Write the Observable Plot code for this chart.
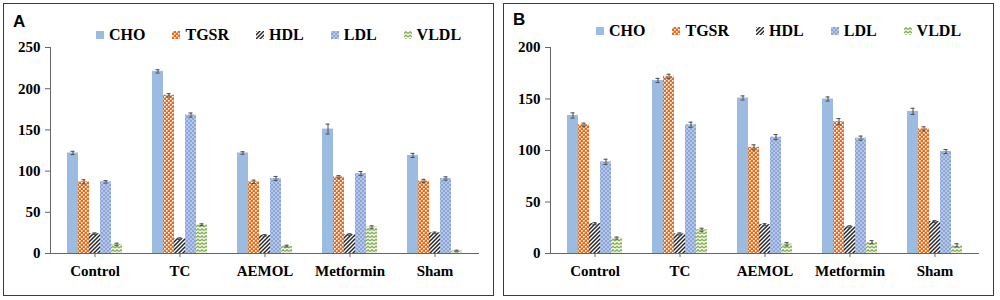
<!DOCTYPE html>
<html>
<head>
<meta charset="utf-8">
<script src="https://cdn.jsdelivr.net/npm/d3@7"></script>
<script src="https://cdn.jsdelivr.net/npm/@observablehq/plot@0.6"></script>
<style>
  html, body { margin: 0; padding: 0; background: #fff; }
  #wrap { position: relative; width: 1000px; height: 300px; overflow: hidden; background: #fff; }
  .panel { position: absolute; top: 3px; width: 491px; height: 293px; box-sizing: border-box; border: 1px solid #3c3c3c; background: #fff; }
  .panel svg.plot { position: absolute; left: 0; top: 0; }
  .tag { position: absolute; left: 9px; font: bold 17px "Liberation Sans", Arial, sans-serif; color: #000; line-height: 1; }
  .legend { position: absolute; display: flex; align-items: center; font: bold 16px "Liberation Serif", "Times New Roman", serif; color: #000; line-height: 1; white-space: nowrap; }
  .legend .item { display: flex; align-items: center; margin-right: 27px; }
  .legend svg { margin-right: 5px; }
</style>
</head>
<body>
<svg width="0" height="0" style="position:absolute">
  <defs>
    <pattern id="pat-CHO" patternUnits="userSpaceOnUse" width="4" height="4">
      <rect width="4" height="4" fill="#9BBBE0"/>
    </pattern>
    <pattern id="pat-TGSR" patternUnits="userSpaceOnUse" width="4" height="4">
      <rect width="4" height="4" fill="#E46C1A"/>
      <rect x="0" y="0" width="1.6" height="1.6" fill="#fff"/>
      <rect x="2" y="2" width="1.6" height="1.6" fill="#fff"/>
    </pattern>
    <pattern id="pat-HDL" patternUnits="userSpaceOnUse" width="4" height="4">
      <rect width="4" height="4" fill="#fff"/>
      <path d="M-1,1 l2,-2 M0,4 l4,-4 M3,5 l2,-2" stroke="#262626" stroke-width="1.5"/>
    </pattern>
    <pattern id="pat-LDL" patternUnits="userSpaceOnUse" width="4" height="4">
      <rect width="4" height="4" fill="#8CA6D9"/>
      <circle cx="1" cy="1" r="0.7" fill="#fff"/>
      <circle cx="3" cy="3" r="0.7" fill="#fff"/>
    </pattern>
    <pattern id="pat-VLDL" patternUnits="userSpaceOnUse" width="4" height="3.5">
      <rect width="4" height="3.5" fill="#fff"/>
      <path d="M0,2.6 L2,0.8 L4,2.6" stroke="#76A63C" stroke-width="1.3" fill="none"/>
    </pattern>
  </defs>
</svg>
<div id="wrap"></div>
<script>
const groups = ["Control", "TC", "AEMOL", "Metformin", "Sham"];
const series = ["CHO", "TGSR", "HDL", "LDL", "VLDL"];

// Panel A: one row per series, one value per group
const valuesA = [
  [122, 221, 122, 151, 119],
  [87, 192, 87, 93, 88],
  [24, 18, 22, 23, 25],
  [87, 168, 91, 97, 91],
  [11, 35, 9, 32, 3]
];
const errorsA = [
  [2, 2, 1.5, 6, 2.5],
  [2.5, 2, 2, 1.5, 2],
  [1, 1, 1, 1, 1],
  [1.5, 2.5, 2.5, 2.5, 2],
  [1.5, 1, 1, 1.5, 1]
];
const ticksA = [0, 50, 100, 150, 200, 250];

// Panel B
const valuesB = [
  [134, 168, 151, 150, 138],
  [125, 172, 103, 128, 121],
  [29, 19, 28, 26, 31],
  [89, 125, 113, 112, 99],
  [15, 23, 9, 11, 8]
];
const errorsB = [
  [2.5, 2, 2, 2, 3],
  [1.5, 2, 2.5, 3, 2],
  [1, 1, 1, 1, 1],
  [2.5, 2.5, 2.5, 2, 2],
  [1, 1.5, 1.5, 1.5, 1.5]
];
const ticksB = [0, 50, 100, 150, 200];

const W = 489, H = 291, MT = 43, MB = 42, ML = 46, MR = 14;
const fontStyle = {fontFamily: '"Liberation Serif", "Times New Roman", serif', fontWeight: "bold", color: "#000", background: "transparent", overflow: "visible"};

function bars(values, errors, ticks) {
  const rows = groups.flatMap((g, i) => series.map((s, j) => ({group: g, series: s, value: values[j][i], err: errors[j][i]})));
  return Plot.plot({
    width: W, height: H, marginTop: MT, marginBottom: MB, marginLeft: ML, marginRight: MR,
    style: fontStyle,
    fx: {domain: groups, paddingInner: 0.3, paddingOuter: 0.15, label: null},
    x: {domain: series, padding: 0, axis: null},
    y: {domain: [0, ticks[ticks.length - 1]], axis: null},
    color: {domain: series, range: series.map(s => `url(#pat-${s})`)},
    marks: [
      Plot.barY(rows, {fx: "group", x: "series", y: "value", fill: "series"}),
      Plot.ruleX(rows, {fx: "group", x: "series", y1: d => d.value - d.err, y2: d => d.value + d.err, stroke: "#4d4d4d", strokeWidth: 1}),
      Plot.tickY(rows, {fx: "group", x: "series", y: d => d.value + d.err, stroke: "#4d4d4d", insetLeft: 3.5, insetRight: 3.5}),
      Plot.tickY(rows, {fx: "group", x: "series", y: d => d.value - d.err, stroke: "#4d4d4d", insetLeft: 3.5, insetRight: 3.5}),
      Plot.axisFx({anchor: "bottom", tickSize: 4, tickPadding: 8, fontSize: 15, label: null, stroke: "#666"})
    ]
  });
}

function axes(ticks) {
  return Plot.plot({
    width: W, height: H, marginTop: MT, marginBottom: MB, marginLeft: ML, marginRight: MR,
    style: fontStyle,
    y: {domain: [0, ticks[ticks.length - 1]]},
    marks: [
      Plot.ruleY([0], {stroke: "#666"}),
      Plot.frame({anchor: "left", stroke: "#666"}),
      Plot.axisY({ticks: ticks, tickSize: 5, tickPadding: 5, fontSize: 15, label: null, stroke: "#666", tickFormat: d => String(d)})
    ]
  });
}

function legend(top) {
  const div = document.createElement("div");
  div.className = "legend";
  div.style.left = "92px";
  div.style.top = top + "px";
  for (const s of series) {
    const item = document.createElement("div");
    item.className = "item";
    item.innerHTML = `<svg width="8" height="8"><rect width="8" height="8" fill="url(#pat-${s})"/></svg><span>${s}</span>`;
    div.appendChild(item);
  }
  return div;
}

function panel(left, tag, values, errors, ticks, tagTop, legendTop) {
  const p = document.createElement("div");
  p.className = "panel";
  p.style.left = left + "px";
  const svg = bars(values, errors, ticks);
  svg.classList.add("plot");
  p.appendChild(svg);
  const ax = axes(ticks);
  ax.classList.add("plot");
  p.appendChild(ax);
  const t = document.createElement("div");
  t.className = "tag";
  t.style.top = tagTop + "px";
  t.textContent = tag;
  p.appendChild(t);
  p.appendChild(legend(legendTop));
  return p;
}

const wrap = document.getElementById("wrap");
wrap.appendChild(panel(3, "A", valuesA, errorsA, ticksA, 9, 23));
wrap.appendChild(panel(503, "B", valuesB, errorsB, ticksB, 7, 19));
</script>
</body>
</html>
